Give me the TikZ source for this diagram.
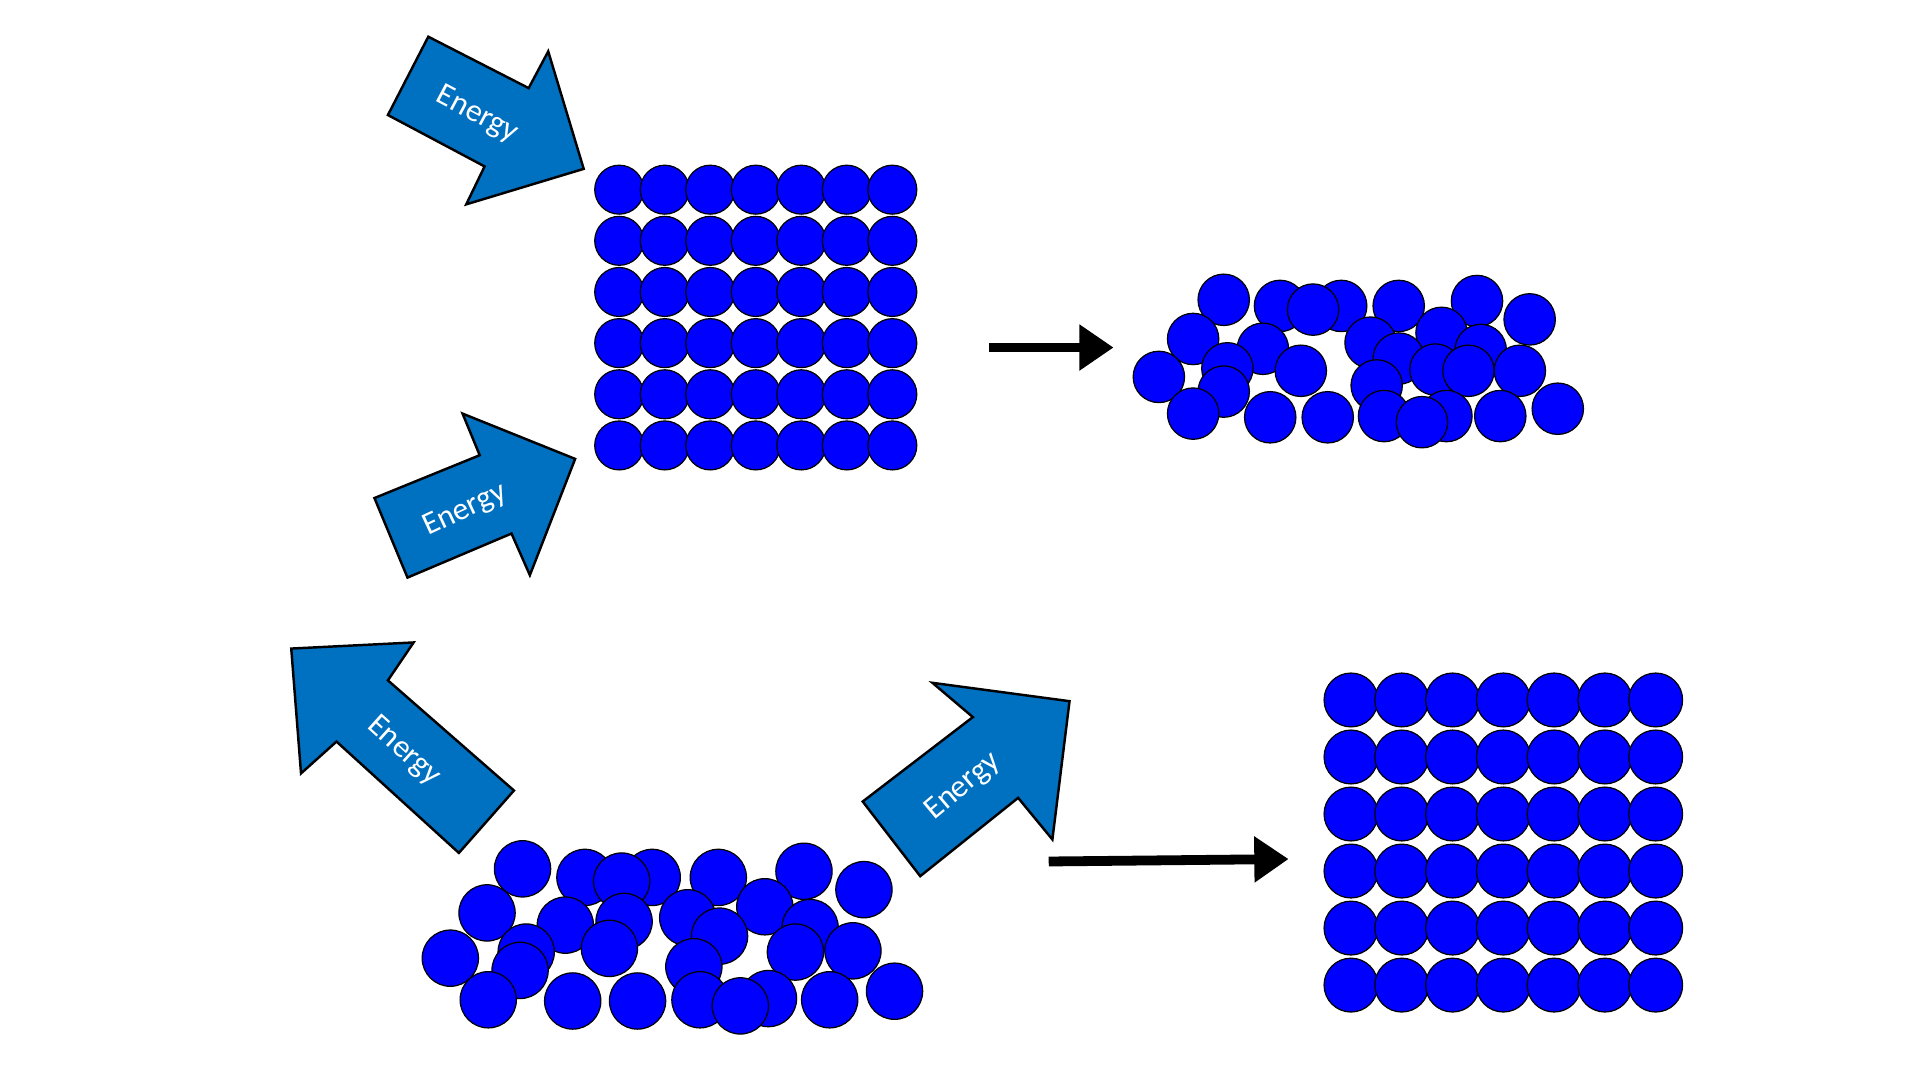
\documentclass[tikz,border=0pt]{standalone}
\usepackage{fontspec}
\setmainfont{Carlito}
\usetikzlibrary{arrows.meta}
\begin{document}
\begin{tikzpicture}[x=0.5pt,y=-0.5pt,
  ball/.style={fill={rgb,255:red,0;green,0;blue,255},draw=black,line width=0.5pt},
  energy/.style={fill={rgb,255:red,0;green,112;blue,192},draw=black,line width=1pt,line join=miter},
  etext/.style={text=white,font=\fontsize{13}{13}\selectfont},
  blk/.style={line width=4pt,-{Triangle[length=14pt,width=18pt]}}]
\useasboundingbox (0,0) rectangle (1569,883);
% top grid
\foreach \i in {0,...,6}\foreach \j in {0,...,5}
  \node[ball,circle,minimum size=20pt,inner sep=0pt] (t\i\j) at ({506+37.2*\i},{155+41.8*\j}) {};
% bottom grid
\foreach \i in {0,...,6}\foreach \j in {0,...,5}
  \node[ball,circle,minimum size=22pt,inner sep=0pt] (b\i\j) at ({1104+41.5*\i},{572+46.6*\j}) {};
% top cluster
\foreach[count=\k] \p in {(1000,245),(1046,250),(1096,250),(1073,253),(1143,250),(1207,246),(1250,261),(975,277),(1032,285),(1120,280),(1178,272),(1210,286),(1143,293),(1063,303),(1003,301),(947,308),(1000,320),(1125,315),(1173,302),(1200,303),(1242,303),(975,338),(1038,341),(1085,341),(1131,340),(1182,340),(1162,345),(1226,340),(1273,334)}
  \node[ball,circle,minimum size=21pt,inner sep=0pt] (c\k) at \p {};
% bottom cluster
\foreach[count=\k] \p in {(427,710),(478,717),(533,717),(508,720),(587,717),(657,712),(706,727),(398,746),(462,756),(510,753),(562,750),(625,741),(662,758),(368,783),(430,778),(498,775),(588,765),(650,778),(697,777),(425,793),(567,790),(399,817),(468,818),(521,818),(572,817),(628,816),(605,822),(678,817),(731,810)}
  \node[ball,circle,minimum size=23pt,inner sep=0pt] (d\k) at \p {};
% energy arrows
\draw[energy] (350,30)--(432,72)--(448,42)--(477,138)--(381,167)--(396,136)--(317,94)--cycle;
\node[etext,rotate=-28] (e1) at (390,94) {Energy};
\draw[energy] (306,407)--(392,372)--(378,338)--(470,375)--(433,470)--(418,436)--(333,472)--cycle;
\node[etext,rotate=25] (e2) at (380,417) {Energy};
\draw[energy] (238,530)--(338,525)--(317,556)--(420,646)--(375,697)--(275,606)--(246,632)--cycle;
\node[etext,rotate=-42] (e3) at (330,614) {Energy};
\draw[energy] (705,655)--(795,586)--(762,558)--(874,573)--(860,686)--(832,652)--(752,716)--cycle;
\node[etext,rotate=40] (e4) at (787,643) {Energy};
% black arrows
\coordinate (a1) at (808,284); \coordinate (a2) at (910,284);
\draw[blk] (a1)--(a2);
\coordinate (a3) at (857,704); \coordinate (a4) at (1053,702);
\draw[blk] (a3)--(a4);
\end{tikzpicture}
\end{document}
